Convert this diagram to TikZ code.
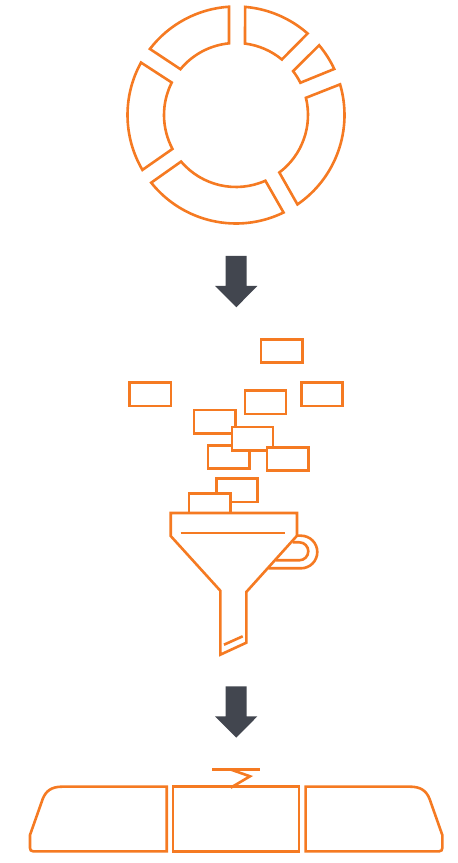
\documentclass[tikz,border=0pt]{standalone}
\usepackage{tikz}
\usetikzlibrary{positioning}
\definecolor{accent1}{HTML}{F57A22}
\definecolor{accent2}{HTML}{42464F}

\tikzset{
  outline/.style={draw=accent1, line width=0.052cm},
  chip/.style={outline, fill=white, inner sep=0pt, outer sep=0pt, minimum width=0.826cm, minimum height=0.468cm},
  downarrow/.style={fill=accent2, draw=none}
}

\begin{document}
\begin{tikzpicture}[x=0.02cm,y=0.02cm]
\useasboundingbox (0,0) rectangle (457,863);
% ring
\foreach \a/\b/\c/\d in {85.2/48.7/50.4/82.8, 40/25.1/26.6/37.5, 16.4/-55.5/-53/13.8, -64/-141.4/-139.7/-65.9, 151.1/210.4/208.1/153.2, 93.7/142.5/140.5/95.6}
  \draw[outline, shift={(236,748)}] (\a:108.5) arc (\a:\b:108.5) -- (\c:72) arc (\c:\d:72) -- cycle;
% arrows
\foreach \yy in {0,430.4}
  \fill[downarrow, yshift=-\yy*0.02cm] (225.7,607) -- (246.7,607) -- (246.7,577) -- (257.3,577) -- (236.3,555.7) -- (215,577) -- (225.7,577) -- cycle;
% chips
\node[chip] (chip1) at (281.7,512) {};
\node[chip] (chip2) at (150.3,468.5) {};
\node[chip] (chip3) at (265.5,460.7) {};
\node[chip] (chip4) at (322,468.5) {};
\node[chip] (chip5) at (214.8,441.2) {};
\node[chip] (chip7) at (228.7,406) {};
\node[chip] (chip6) at (252.5,424.3) {};
\node[chip] (chip8) at (287.7,404) {};
\node[chip] (chip9) at (237,372.7) {};
\node[chip] (chip10) at (209.7,357.6) {};
% funnel
\draw[outline] (297,327.3) -- (301,327.3) arc (90:-90:16.3) -- (268.7,294.7);
\draw[outline] (292.7,320.7) -- (299.3,320.7) arc (90:-90:9) -- (276,302.7);
\draw[outline, fill=white] (170.7,350) -- (297,350) -- (297,327.3) -- (246.3,271) -- (246.3,220.3) -- (220.3,208.3) -- (220.3,272.3) -- (170.7,327) -- cycle;
\draw[outline] (180.7,330) -- (285.3,330);
\draw[outline] (224,218.3) -- (242.7,226.7);
% cards
\draw[outline] (212,93.7) -- (260.3,93.7);
\draw[outline] (230,93.7) -- (250,86.7) -- (230.7,75.3);
\draw[outline] (30,28) -- (42.7,64) .. controls (46,72.5) and (52,76.3) .. (62,76.3) -- (166.7,76.3) -- (166.7,11.7) -- (33,11.7) .. controls (31,11.7) and (30,13) .. (30,15) -- cycle;
\draw[outline] (173,76.3) rectangle (299,11.7);
\draw[outline] (442.3,28) -- (429.6,64) .. controls (426.3,72.5) and (420.3,76.3) .. (410.3,76.3) -- (305.6,76.3) -- (305.6,11.7) -- (439.3,11.7) .. controls (441.3,11.7) and (442.3,13) .. (442.3,15) -- cycle;
\end{tikzpicture}
\end{document}
